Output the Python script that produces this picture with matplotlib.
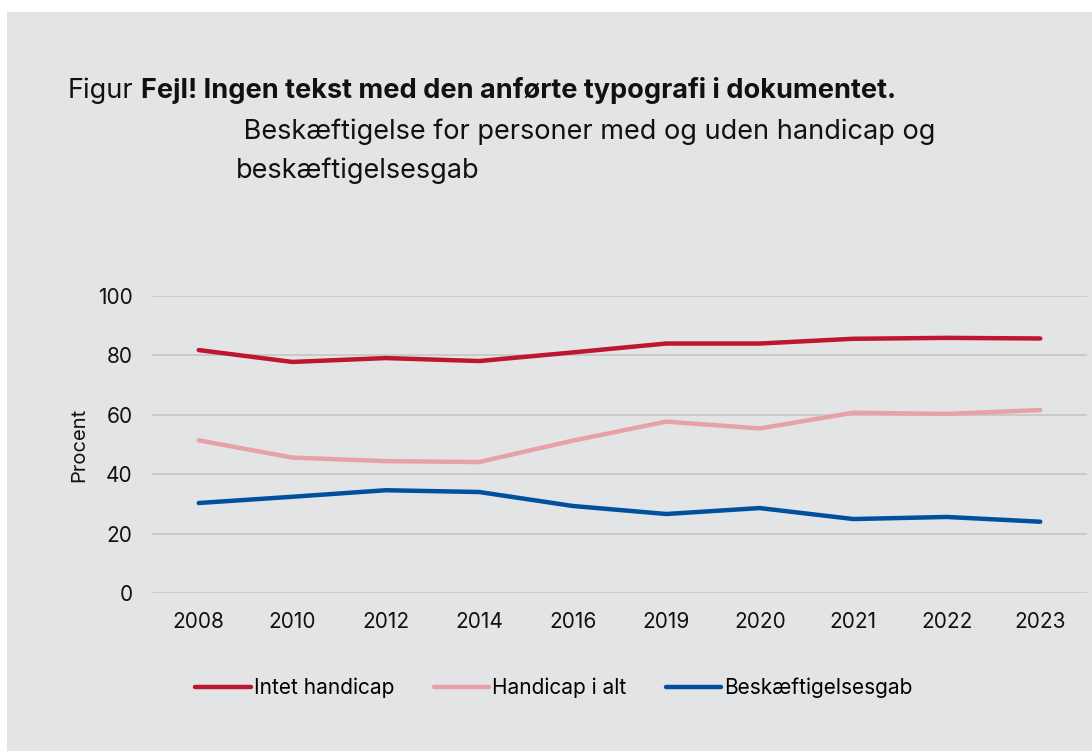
import numpy as np
import matplotlib.pyplot as plt
from matplotlib.patches import Rectangle

plt.rcParams['font.family'] = ['Inter', 'DejaVu Sans']

years = ['2008', '2010', '2012', '2014', '2016', '2019', '2020', '2021', '2022', '2023']
intet_handicap = [81.8, 77.8, 79.1, 78.1, 81.0, 84.0, 84.0, 85.6, 85.9, 85.7]
handicap_i_alt = [51.4, 45.6, 44.4, 44.1, 51.3, 57.7, 55.4, 60.7, 60.3, 61.6]
gab = [30.3, 32.4, 34.6, 34.0, 29.3, 26.6, 28.6, 24.9, 25.6, 24.0]

bg = '#e3e4e5'
fig = plt.figure(figsize=(10.92, 7.51), dpi=100, facecolor='white')
fig.patches.append(Rectangle((7 / 1092, 0), 1, 1 - 12 / 751, transform=fig.transFigure,
                             facecolor=bg, edgecolor='none', zorder=-1))

ax = fig.add_axes([152 / 1092, 1 - 593 / 751, (1087 - 152) / 1092, (593 - 296) / 751])
ax.set_facecolor(bg)
x = np.arange(len(years))
ax.plot(x, intet_handicap, color='#be1530', lw=3.2, solid_capstyle='round', label='Intet handicap')
ax.plot(x, handicap_i_alt, color='#e6a2a6', lw=3.2, solid_capstyle='round', label='Handicap i alt')
ax.plot(x, gab, color='#00509e', lw=3.2, solid_capstyle='round', label='Beskæftigelsesgab')

ax.set_xlim(-0.5, len(years) - 0.5)
ax.set_ylim(0, 100)
ax.set_yticks([0, 20, 40, 60, 80, 100])
ax.set_xticks(x)
ax.set_xticklabels(years)
ax.yaxis.grid(True, color='#c3c3c3', lw=1.1)
ax.set_axisbelow(True)
for s in ax.spines.values():
    s.set_visible(False)
ax.tick_params(length=0, labelsize=15, colors='#111111')
ax.tick_params(axis='x', pad=14)
ax.tick_params(axis='y', pad=14)
ax.set_ylabel('Procent', fontsize=14.5, color='#111111', labelpad=7)

fig.text(68 / 1092, 1 - 91 / 751, 'Figur', fontsize=19.5, va='center', ha='left', color='#111111')
fig.text(141 / 1092, 1 - 91 / 751, 'Fejl! Ingen tekst med den anførte typografi i dokumentet.',
         fontsize=19.5, fontweight='bold', va='center', ha='left', color='#111111')
fig.text(236 / 1092, 1 - 132 / 751, ' Beskæftigelse for personer med og uden handicap og',
         fontsize=19.5, va='center', ha='left', color='#111111')
fig.text(236 / 1092, 1 - 171 / 751, 'beskæftigelsesgab',
         fontsize=19.5, va='center', ha='left', color='#111111')

fig.legend(loc='center', bbox_to_anchor=(554 / 1092, 1 - 688 / 751), ncol=3, frameon=False,
           fontsize=15, handlelength=2.65, handletextpad=0.15, columnspacing=1.9)

fig.savefig('out.png', dpi=100, facecolor='white')
